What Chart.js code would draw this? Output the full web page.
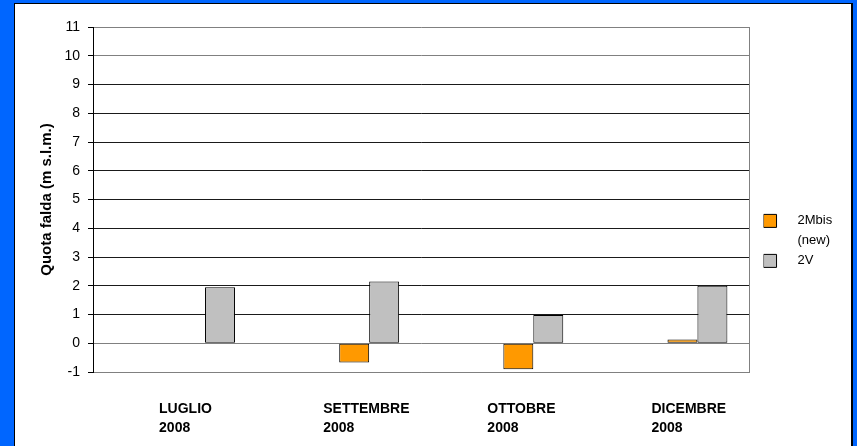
<!DOCTYPE html>
<html>
<head>
<meta charset="utf-8">
<script src="https://cdn.jsdelivr.net/npm/chart.js@4.4.1/dist/chart.umd.min.js"></script>
<style>
    html, body { margin: 0; padding: 0; }
    body { width: 857px; height: 446px; background: #0066ff; overflow: hidden; position: relative; }
    #panel {
        position: absolute; left: 14px; top: 3px;
        width: 836px; height: 450px;
        background: #fff;
        border: 1px solid #000; border-right: 2px solid #000;
    }
    #chart { display: block; }
</style>
</head>
<body>
<div id="panel"><canvas id="chart" width="836" height="442"></canvas></div>
<script>
const categories = [['LUGLIO', '2008'], ['SETTEMBRE', '2008'], ['OTTOBRE', '2008'], ['DICEMBRE', '2008']]
const emptyValues = [null, null, null, null]
const mbisValues = [null, -0.67, -0.9, 0.13]
const v2Values = [1.95, 2.15, 0.98, 2.0]
const yTicks = { min: -1, max: 11, step: 1 }

// legend texts (multi-line, like the excel legend)
const legendText = {
    '2Mbis (new)': ['    2Mbis', '    (new)'],
    '2V': ['    2V'],
}

const font = 'Liberation Sans, Arial, sans-serif'
const greyLines = [0, 10, 11, -1]

const config = {
    type: 'bar',
    data: {
        labels: categories,
        datasets: [
            { label: '', data: emptyValues },
            { label: '', data: emptyValues },
            {
                label: '2Mbis (new)',
                backgroundColor: '#ff9900',
                borderColor: '#000',
                borderWidth: 1,
                borderSkipped: false,
                data: mbisValues,
            },
            {
                label: '2V',
                backgroundColor: '#c0c0c0',
                borderColor: '#000',
                borderWidth: 1,
                borderSkipped: false,
                data: v2Values,
            },
        ],
    },
    options: {
        responsive: false,
        animation: false,
        categoryPercentage: 0.73,
        barPercentage: 1,
        layout: { padding: { top: 23, right: 11, bottom: 0, left: 0 } },
        plugins: {
            tooltip: { enabled: false },
            legend: {
                position: 'right',
                align: 'start',
                title: { display: true, text: '', padding: { top: 173, bottom: 0 } },
                labels: {
                    boxWidth: 13,
                    boxHeight: 13,
                    padding: 0,
                    color: '#000',
                    font: { family: font, size: 13, lineHeight: '20px' },
                    generateLabels(chart) {
                        const items = Chart.defaults.plugins.legend.labels.generateLabels(chart)
                        return items
                            .filter(it => it.text)
                            .map(it => ({ ...it, text: legendText[it.text] || it.text }))
                    },
                },
            },
        },
        scales: {
            x: {
                grid: { display: false, drawTicks: false },
                border: { color: '#808080' },
                ticks: {
                    color: '#000',
                    align: 'start',
                    labelOffset: -16,
                    padding: 28,
                    maxRotation: 0,
                    autoSkip: false,
                    font: { family: font, size: 14, weight: 'bold', lineHeight: '19px' },
                },
                afterFit: s => { s.height = 74 },
            },
            y: {
                min: yTicks.min,
                max: yTicks.max,
                grid: {
                    color: c => greyLines.includes(c.tick.value) ? '#808080' : '#1a1a1a',
                    tickColor: '#000',
                    tickLength: 5,
                },
                border: { color: '#000' },
                ticks: {
                    stepSize: yTicks.step,
                    autoSkip: false,
                    color: '#000',
                    padding: 8,
                    font: { family: font, size: 14 },
                },
                title: {
                    display: true,
                    text: 'Quota falda (m s.l.m.)',
                    color: '#000',
                    padding: { top: 23, bottom: 0 },
                    font: { family: font, size: 15, weight: 'bold' },
                },
                afterFit: s => { s.width = 78 },
            },
            // spacer on the right: gives the grey plot border and the gap before the legend
            y2: {
                position: 'right',
                grid: { display: false, drawTicks: false },
                ticks: { display: false },
                border: { display: true, color: '#808080' },
                afterFit: s => { s.width = 14 },
            },
        },
    },
}

new Chart(document.getElementById('chart'), config)
</script>
</body>
</html>
